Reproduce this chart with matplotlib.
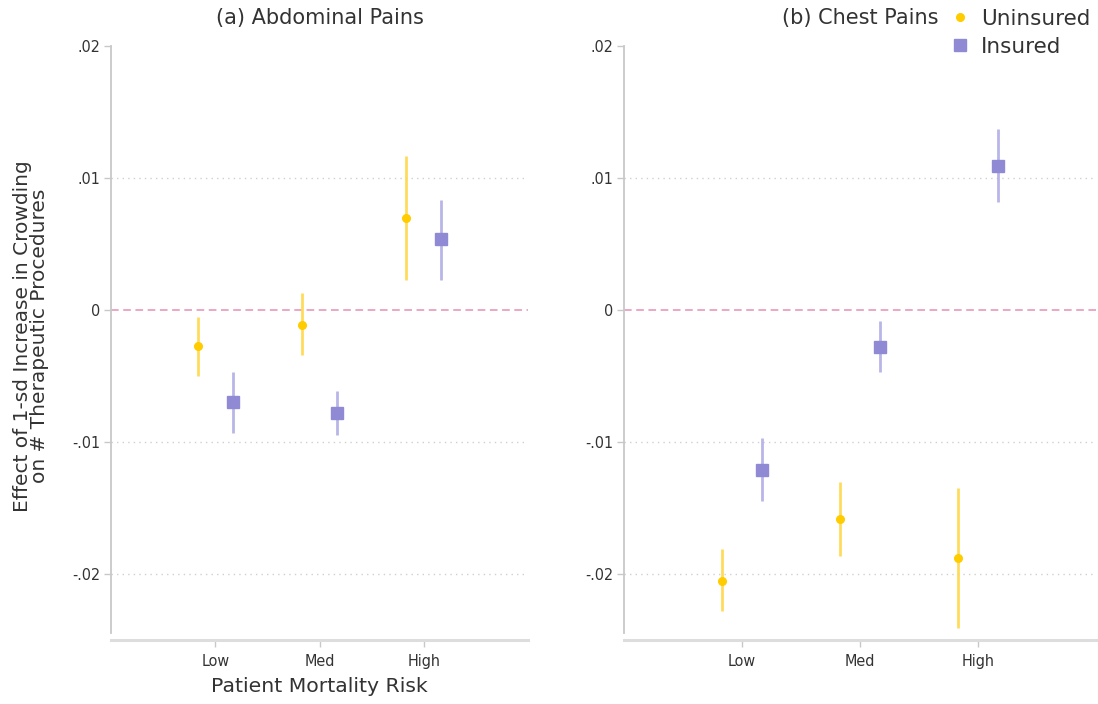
import matplotlib
matplotlib.use("Agg")
import matplotlib.pyplot as plt
import numpy as np

categories = ["Low", "Med", "High"]
panel_titles = ["(a) Abdominal Pains", "(b) Chest Pains"]

# Panel (a) Abdominal Pains
abd_unins = [-0.0027, -0.0011, 0.0070]
abd_unins_lo = [-0.0050, -0.0034, 0.0023]
abd_unins_hi = [-0.0005, 0.0013, 0.0117]
abd_ins = [-0.0070, -0.0078, 0.0054]
abd_ins_lo = [-0.0093, -0.0095, 0.0023]
abd_ins_hi = [-0.0047, -0.0061, 0.0083]

# Panel (b) Chest Pains
chest_unins = [-0.0205, -0.0158, -0.0188]
chest_unins_lo = [-0.0228, -0.0186, -0.0241]
chest_unins_hi = [-0.0181, -0.0130, -0.0135]
chest_ins = [-0.0121, -0.0028, 0.0109]
chest_ins_lo = [-0.0145, -0.0047, 0.0082]
chest_ins_hi = [-0.0097, -0.0008, 0.0137]

yticks = [-0.02, -0.01, 0.0, 0.01, 0.02]
ytick_labels = ["-.02", "-.01", "0", ".01", ".02"]

YEL = "#FFCC00"
YEL_BAR = "#FFD84A"
PUR = "#8F8AD3"
PUR_BAR = "#B1AEE6"
TXT = "#333333"

fig = plt.figure(figsize=(10.98, 7.04), dpi=100)
W, H = 1098, 704
def rect(x0, x1, ytop, ybot):
    return [x0 / W, 1 - ybot / H, (x1 - x0) / W, (ybot - ytop) / H]

axA = fig.add_axes(rect(111, 528, 46, 640))
axB = fig.add_axes(rect(624, 1096, 46, 640))

panels = [
    (axA, abd_unins, abd_unins_lo, abd_unins_hi, abd_ins, abd_ins_lo, abd_ins_hi),
    (axB, chest_unins, chest_unins_lo, chest_unins_hi, chest_ins, chest_ins_lo, chest_ins_hi),
]

x = np.arange(1, len(categories) + 1)
off = 0.17
tick_font = dict(fontsize=11.5, color=TXT, fontstretch="condensed")

for i, (ax, u, ulo, uhi, s, slo, shi) in enumerate(panels):
    ax.set_xlim(0, 4)
    ax.set_ylim(-0.025, 0.02)
    for g in [-0.02, -0.01, 0.01]:
        ax.axhline(g, color="#D0D0D0", lw=1.0, ls=(0, (1, 3)), zorder=0)
    ax.axhline(0, color="#E58FB4", lw=1.1, ls=(0, (5, 3)), zorder=0)

    u = np.array(u); s = np.array(s)
    ax.vlines(x - off, ulo, uhi, color=YEL_BAR, lw=2.0, alpha=0.9, zorder=2)
    ax.plot(x - off, u, "o", color=YEL, ms=5.5, zorder=3, label="Uninsured")
    ax.vlines(x + off, slo, shi, color=PUR_BAR, lw=2.0, alpha=0.9, zorder=2)
    ax.plot(x + off, s, "s", color=PUR, ms=8, zorder=3, label="Insured")

    for sp in ["top", "right"]:
        ax.spines[sp].set_visible(False)
    ax.spines["left"].set_color("#C8C8C8")
    ax.spines["left"].set_linewidth(1.3)
    ax.spines["left"].set_bounds(-0.0245, 0.02)
    ax.spines["bottom"].set_color("#DDDDDD")
    ax.spines["bottom"].set_linewidth(2.2)

    ax.set_yticks(yticks)
    ax.set_yticklabels(ytick_labels, **tick_font)
    ax.tick_params(axis="y", length=5, width=1, color="#C8C8C8", pad=3)
    ax.set_xticks(x)
    ax.set_xticklabels(categories, **tick_font)
    ax.tick_params(axis="x", length=5, width=1, color="#C8C8C8", pad=5)

    ax.set_title(panel_titles[i], fontsize=15, color=TXT, pad=16)

axA.set_xlabel("Patient Mortality Risk", fontsize=14.7, color=TXT, labelpad=6)
axA.set_ylabel("Effect of 1-sd Increase in Crowding\non # Therapeutic Procedures",
               fontsize=14.5, color=TXT, linespacing=0.88)
axA.yaxis.set_label_coords(-0.148, 0.512)

handles, labels = axB.get_legend_handles_labels()
fig.legend(handles, labels, loc="upper right", bbox_to_anchor=(1.004, 1.004),
           frameon=False, fontsize=15.5, handletextpad=0.5, labelspacing=0.35,
           handlelength=1.0, borderaxespad=0.15, labelcolor=TXT)

fig.savefig("out.png", dpi=100)
